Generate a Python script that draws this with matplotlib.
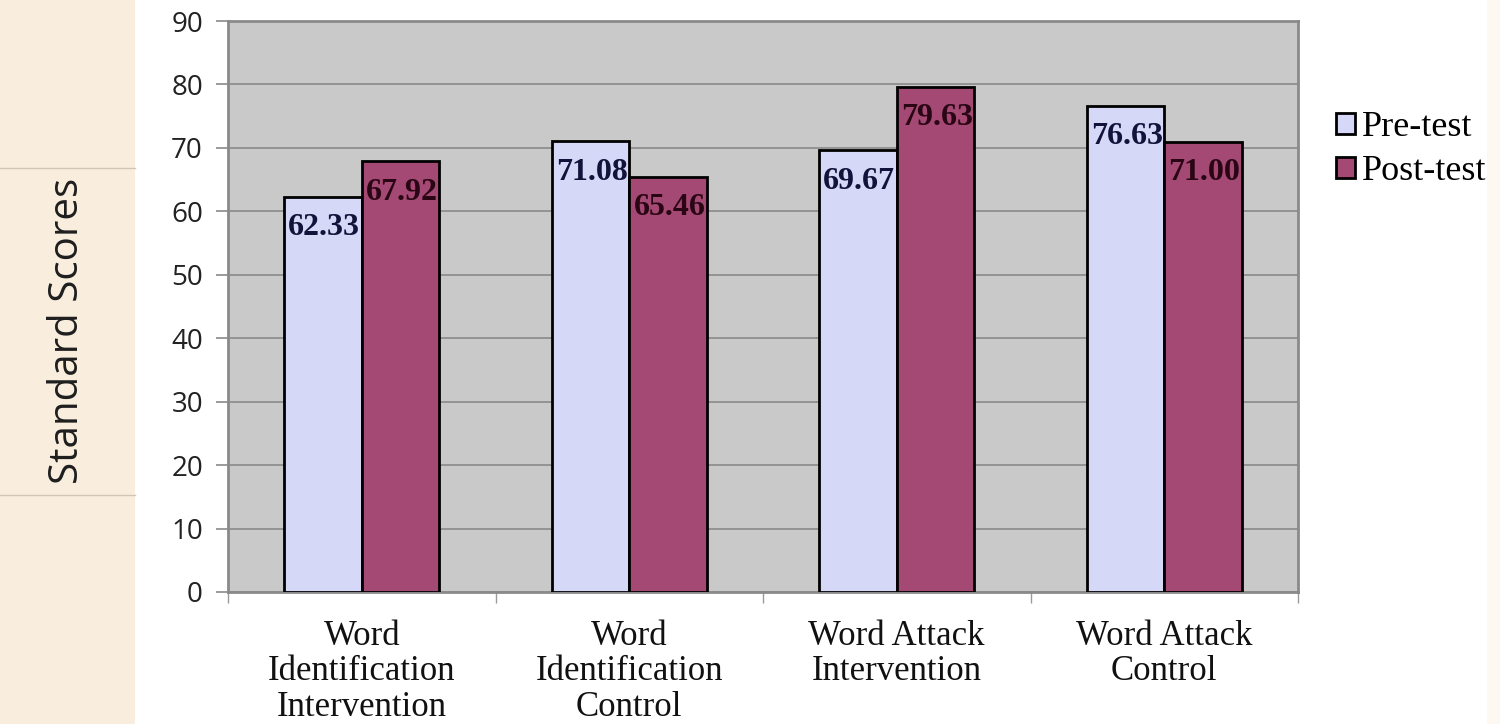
import matplotlib
matplotlib.use("Agg")
import matplotlib.pyplot as plt
from matplotlib.patches import Rectangle
import numpy as np

categories = ["Word\nIdentification\nIntervention", "Word\nIdentification\nControl",
              "Word Attack\nIntervention", "Word Attack\nControl"]
pre_test = [62.33, 71.08, 69.67, 76.63]
post_test = [67.92, 65.46, 79.63, 71.00]
series_names = ["Pre-test", "Post-test"]
y_ticks = [0, 10, 20, 30, 40, 50, 60, 70, 80, 90]

pre_color = '#D6D8F8'
post_color = '#A44874'
serif = ['Liberation Serif', 'DejaVu Serif']

fig = plt.figure(figsize=(15, 7.24), dpi=100)
fig.patch.set_facecolor('white')

# parchment strip on the left edge, with its two ruled lines
fig.patches.append(Rectangle((0, 0), 135 / 1500, 1, transform=fig.transFigure,
                             facecolor='#F9EEDD', edgecolor='none', zorder=0))
fig.patches.append(Rectangle((1487 / 1500, 0), 13 / 1500, 1, transform=fig.transFigure,
                             facecolor='#FDF8F1', edgecolor='none', zorder=0))
for yy in (168, 495):
    fig.add_artist(plt.Line2D([0, 135 / 1500], [1 - yy / 724] * 2, transform=fig.transFigure,
                              color='#CFC6B8', lw=1))

fig.text(68 / 1500, 1 - 331 / 724, 'Standard Scores', rotation=90, ha='center', va='center',
         fontsize=29, color='#1E1E1E', family=['Open Sans', 'DejaVu Sans'])

ax = fig.add_axes([228 / 1500, 132 / 724, 1070 / 1500, 571 / 724])
ax.set_facecolor('#C9C9C9')

x = np.arange(len(categories))
w = 0.29
b1 = ax.bar(x - w / 2, pre_test, w, color=pre_color, edgecolor='black', linewidth=2, zorder=3)
b2 = ax.bar(x + w / 2, post_test, w, color=post_color, edgecolor='black', linewidth=2, zorder=3)

for bars, vals, tc in ((b1, pre_test, '#12123A'), (b2, post_test, '#2A0614')):
    for r, v in zip(bars, vals):
        ax.annotate(f'{v:.2f}', (r.get_x() + r.get_width() / 2, v), xytext=(1, -12),
                    textcoords='offset points', ha='center', va='top', fontsize=23,
                    fontweight='bold', color=tc, family=serif, zorder=4)

ax.set_ylim(0, 90)
ax.set_xlim(-0.5, len(categories) - 0.5)
ax.set_yticks(y_ticks)
ax.yaxis.grid(True, color='#8A8A8A', linewidth=1.2, zorder=1)
ax.set_axisbelow(True)
ax.tick_params(axis='y', length=9, width=1.2, color='#8A8A8A', labelsize=20,
               labelcolor='#222222', pad=9)
for t in ax.get_yticklabels():
    t.set_family(['Open Sans', 'DejaVu Sans'])

ax.set_xticks(x)
ax.set_xticklabels(categories, fontsize=25, family=serif, color='#111111', linespacing=1.1)
ax.tick_params(axis='x', which='major', length=0, pad=20)
ax.set_xticks(np.arange(-0.5, len(categories)), minor=True)
ax.tick_params(axis='x', which='minor', length=8, width=1, color='#9A9A9A')

for s in ax.spines.values():
    s.set_color('#8A8A8A')
    s.set_linewidth(2)

fig.legend([b1, b2], series_names, loc='upper left', bbox_to_anchor=(1322 / 1500, 1 - 97 / 724),
           frameon=False, prop={'family': serif, 'size': 26}, handlelength=0.5,
           handleheight=0.5, handletextpad=0.2, labelspacing=0.3, borderaxespad=0)

fig.savefig('out.png', dpi=100)
